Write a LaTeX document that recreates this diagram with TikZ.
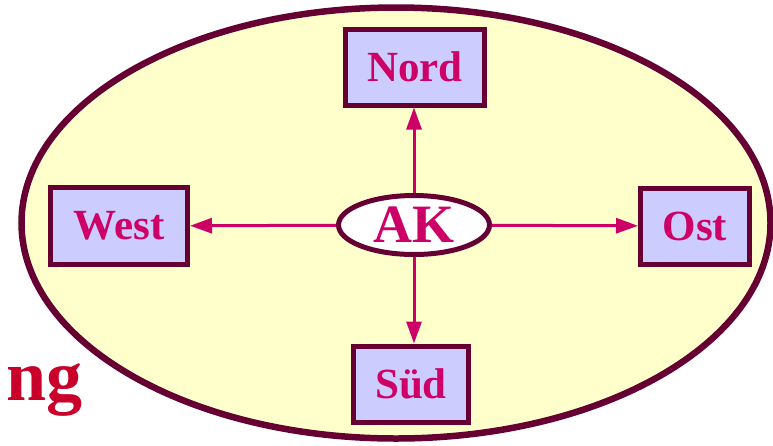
\documentclass[tikz,border=0pt]{standalone}
\usepackage{fontspec}
\setmainfont{Liberation Serif}
\usetikzlibrary{arrows.meta,shapes.geometric}
\definecolor{maroon}{HTML}{660033}
\definecolor{fillyel}{HTML}{FFFFCC}
\definecolor{fillblue}{HTML}{CCCCFF}
\definecolor{txtpink}{HTML}{CC0066}
\definecolor{txtred}{HTML}{C8002A}
\tikzset{
  dirbox/.style={draw=maroon, line width=5pt, fill=fillblue, text=txtpink,
    font=\fontsize{43}{43}\selectfont\bfseries, inner sep=0pt},
  conn/.style={draw=txtpink, line width=3pt, -{Triangle[length=22pt,width=15pt]}}
}
\begin{document}
\begin{tikzpicture}[x=1pt,y=-1pt]
\useasboundingbox (0,0) rectangle (773,445);
\node[draw=maroon, line width=6.5pt, fill=fillyel, ellipse, minimum width=749pt, minimum height=431pt, inner sep=0pt] (outer) at (396,223) {};
\node[dirbox, minimum width=139pt, minimum height=76pt] (nord) at (415,67) {Nord};
\node[dirbox, minimum width=109pt, minimum height=76pt] (ost) at (695,226) {Ost};
\node[dirbox, minimum width=137pt, minimum height=77pt] (west) at (119,226) {West};
\node[dirbox, minimum width=115pt, minimum height=76pt] (sued) at (411,384) {Süd};
\node[draw=maroon, line width=5pt, fill=white, ellipse, minimum width=151pt, minimum height=59pt, inner sep=0pt, text=txtpink, font=\fontsize{54}{54}\selectfont\bfseries] (ak) at (414,225) {AK};
\draw[conn] (ak.north) -- (ak.north |- nord.south);
\draw[conn] (ak) -- (ost);
\draw[conn] (ak) -- (west);
\draw[conn] (ak.south) -- (ak.south |- sued.north);
\node[anchor=base west, inner sep=0pt, text=txtred, font=\fontsize{72}{72}\selectfont\bfseries] (ng) at (6,400) {ng};
\end{tikzpicture}
\end{document}
